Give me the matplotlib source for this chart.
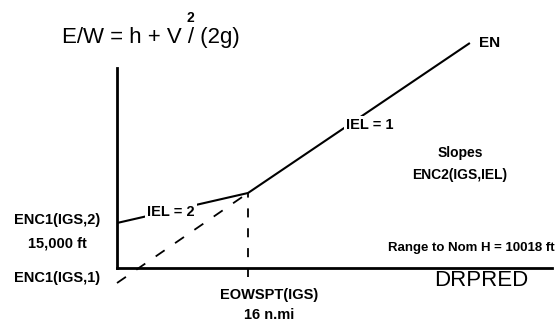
import matplotlib
matplotlib.use('Agg')
import matplotlib.pyplot as plt

plt.rcParams['font.family'] = ['Liberation Sans', 'DejaVu Sans']

# range (n.mi) and energy height E/W (ft) along the profile
ranges = [0, 16, 43.1]
energy = [15000, 21000, 51000]
# extension of the IEL=1 slope back to zero range
ext_ranges = [0, 16]
ext_energy = [3000, 21000]
eowspt = 16
enc1_1 = 3000
enc1_2 = 15000
nom_h_range = 10018

W, H = 557, 324
fig = plt.figure(figsize=(W / 100, H / 100), dpi=100)
ax = fig.add_axes([117 / W, 56 / H, 435 / W, 248 / H])
ax.set_xlim(0, 53.13)
ax.set_ylim(6000, 55600)

# solid profile, two slopes
ax.plot(ranges, energy, color='black', lw=1.5, solid_capstyle='butt', zorder=2)
# dashed slope extension and dashed drop line at EOWSPT
ax.plot(ext_ranges, ext_energy, color='black', lw=1.3, dashes=(6, 7), clip_on=False)
ax.plot([eowspt, eowspt], [4200, energy[1]], color='black', lw=1.3, dashes=(5, 6), clip_on=False)

ax.spines['right'].set_visible(False)
ax.spines['top'].set_visible(False)
ax.spines['left'].set_linewidth(2)
ax.spines['bottom'].set_linewidth(2)
ax.spines['left'].set_bounds(6000, 46000)
ax.set_xticks([])
ax.set_yticks([])
ax.patch.set_alpha(0)


def px(x, y):
    return x / W, 1 - y / H


wbox = dict(facecolor='white', edgecolor='none', pad=1.5)

fig.text(*px(62, 37), 'E/W = h + V / (2g)', fontsize=16, va='center', ha='left')
fig.text(*px(190, 18), '2', fontsize=10, fontweight='bold', va='center', ha='center')
fig.text(*px(490, 43), 'EN', fontsize=11, fontweight='bold', va='center', ha='center')
fig.text(*px(370, 125), 'IEL = 1', fontsize=10.5, fontweight='bold', va='center',
         ha='center', bbox=wbox, zorder=3)
fig.text(*px(171, 212), 'IEL = 2', fontsize=10.5, fontweight='bold', va='center',
         ha='center', bbox=wbox, zorder=3)
fig.text(*px(460, 153), 'Slopes', fontsize=10, fontweight='bold', va='center', ha='center')
fig.text(*px(460, 175), 'ENC2(IGS,IEL)', fontsize=10, fontweight='bold', va='center', ha='center')
fig.text(*px(555, 248), f'Range to Nom H = {nom_h_range} ft', fontsize=9.5, fontweight='bold',
         va='center', ha='right')
fig.text(*px(481, 280), 'DRPRED', fontsize=16, va='center', ha='center')
fig.text(*px(57, 220), 'ENC1(IGS,2)', fontsize=10.5, fontweight='bold', va='center', ha='center')
fig.text(*px(57, 243), f'{enc1_2:,} ft', fontsize=10.5, fontweight='bold', va='center', ha='center')
fig.text(*px(57, 278), 'ENC1(IGS,1)', fontsize=10.5, fontweight='bold', va='center', ha='center')
fig.text(*px(269, 295), 'EOWSPT(IGS)', fontsize=10.5, fontweight='bold', va='center', ha='center')
fig.text(*px(269, 315), f'{eowspt} n.mi', fontsize=10.5, fontweight='bold', va='center', ha='center')

fig.savefig('out.png', dpi=100)
